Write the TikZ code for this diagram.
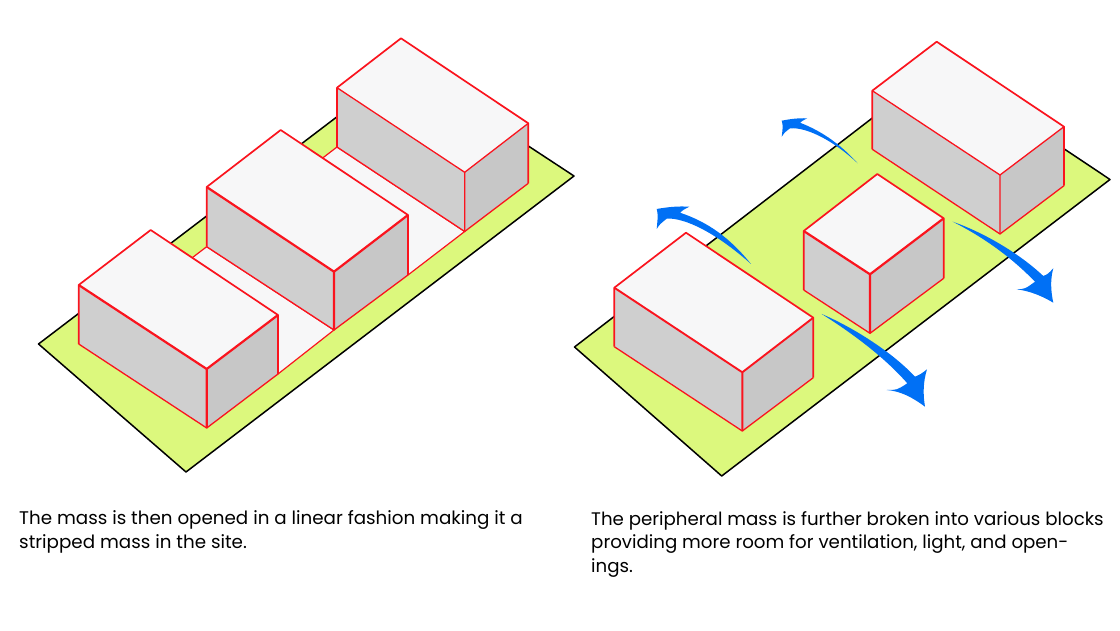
\documentclass[tikz,border=0pt]{standalone}
\usepackage{fontspec}
\setmainfont{Poppins}
\definecolor{sitegreen}{RGB}{220,248,125}
\definecolor{massred}{RGB}{250,20,30}
\definecolor{flowblue}{RGB}{0,112,245}
\definecolor{topgrey}{RGB}{247,247,248}
\definecolor{leftgrey}{RGB}{207,207,207}
\definecolor{rightgrey}{RGB}{199,199,199}

% #1 width of the edges at the front corner, #2-#5 roof (left, back, right, front), #6-#8 foot (left, front, right)
\newcommand{\massblock}[8]{
	\fill[topgrey] #2 -- #3 -- #4 -- #5 -- cycle;
	\fill[leftgrey] #2 -- #5 -- #7 -- #6 -- cycle;
	\fill[rightgrey] #5 -- #4 -- #8 -- #7 -- cycle;
	\draw[massline] #6 -- #7 -- #8;
	\draw[massline,line width=1.7pt] #6 -- #2 -- #3 -- #4 -- #8;
	\draw[massline,line width=#1] #2 -- #5 -- #4 #5 -- #7;
}

\tikzset{
	site/.style={fill=sitegreen,draw=black,line width=1.5pt,line join=round},
	strip/.style={fill=topgrey,draw=massred,line width=1.2pt},
	massline/.style={draw=massred,line width=1.3pt,line join=round},
	flow/.style={fill=flowblue},
	caption/.style={inner sep=0pt,anchor=north west,align=left}
}

\begin{document}
\begin{tikzpicture}[x=1pt,y=-1pt]
\useasboundingbox (0,0) rectangle (1120,631);

% LEFT SITE
\draw[site] (38.5,344) -- (186,472) -- (574,176) -- (405,65) -- cycle;
\draw[strip] (337,147) -- (464.7,231.5) -- (408,275) -- (281,190) -- cycle;
\massblock{1.3pt}{(337,87.7)}{(401,38.3)}{(528.3,123.3)}{(464.7,172.3)}{(337,147)}{(464.7,231.5)}{(528.3,183.3)}
\draw[strip] (206.7,246.7) -- (334,330) -- (278,374) -- (150,290) -- cycle;
\massblock{2.2pt}{(206.7,187)}{(280.7,130)}{(408,215)}{(334,271.7)}{(206.7,246.7)}{(334,330)}{(408,275)}
\massblock{2.2pt}{(78.7,285)}{(150.7,230)}{(278,315)}{(206.7,369)}{(78.7,344)}{(206.7,428)}{(278,374)}

% RIGHT SITE
\draw[site] (574.5,347) -- (721.7,476) -- (1110,179.5) -- (940,66) -- cycle;
\massblock{1.3pt}{(872.3,90.7)}{(936.7,41.7)}{(1064,126.7)}{(1000,175)}{(872.3,149.3)}{(1000,234)}{(1064,185.7)}
\massblock{2.2pt}{(803.7,231)}{(877.3,174)}{(943.7,218.3)}{(870,274.3)}{(803.7,290)}{(870,333.3)}{(943.7,278.3)}
\massblock{1.9pt}{(614.3,287.7)}{(686,232.7)}{(813.3,317.7)}{(742.3,372.3)}{(614.3,346.7)}{(742.3,431)}{(813.3,377.7)}

% ARROWS
\fill[flow] (751,264) .. controls (730,238) and (708,222) .. (680,212.7)
	.. controls (683,210) .. (689.3,206.7)
	.. controls (678,206) and (668,207) .. (656.7,209)
	.. controls (658,215) .. (656.7,229)
	.. controls (660,224) .. (667,218.5)
	.. controls (685,218) and (715,232) .. (751,264) -- cycle;
\fill[flow] (857.7,163.3) .. controls (842,146) and (824,132) .. (800,122.7)
	.. controls (802,121) .. (807.3,118.3)
	.. controls (798,118) and (790,119) .. (781.7,120.7)
	.. controls (783,126) .. (781.7,136.7)
	.. controls (784,133) .. (790,128.3)
	.. controls (808,127) and (835,142) .. (857.7,163.3) -- cycle;
\fill[flow] (821.7,314) .. controls (850,326) and (890,350) .. (915,376.7)
	.. controls (921,374) .. (927,369.3)
	.. controls (923,382) and (923,395) .. (925,406.7)
	.. controls (912,397) and (900,391) .. (886.7,390)
	.. controls (897,390) .. (907.3,383.3)
	.. controls (885,358) and (855,335) .. (821.7,314) -- cycle;
\fill[flow] (952.7,221.7) .. controls (985,233) and (1020,254) .. (1043.3,276)
	.. controls (1048,274) .. (1053.3,268.3)
	.. controls (1050,280) and (1051,292) .. (1053.3,302.7)
	.. controls (1042,296) and (1030,291) .. (1016.7,289.3)
	.. controls (1025,289) .. (1035,281.7)
	.. controls (1012,258) and (985,238) .. (952.7,221.7) -- cycle;

% CAPTIONS
\node[caption,font=\fontsize{18.3}{24}\selectfont] (captionleft) at (19,510)
	{The mass is then opened in a linear fashion making it a\\stripped mass in the site.};
\node[caption,font=\fontsize{18.2}{23.5}\selectfont] (captionright) at (591,511)
	{The peripheral mass is further broken into various blocks\\providing more room for ventilation, light, and open-\\ings.};
\end{tikzpicture}
\end{document}
